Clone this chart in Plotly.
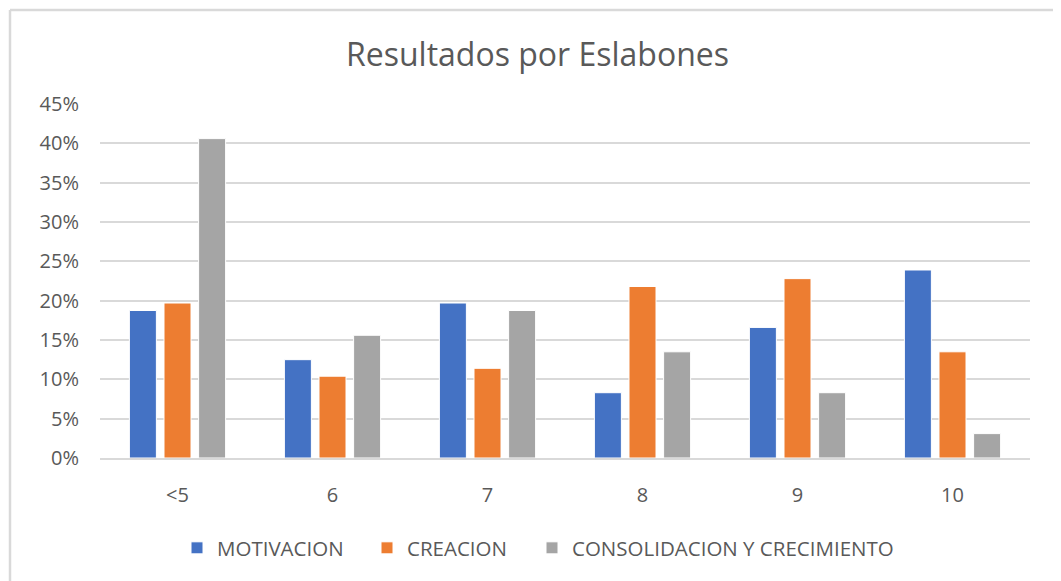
import plotly.graph_objects as go

categories = ["<5", "6", "7", "8", "9", "10"]
motivacion = [0.1875, 0.125, 0.197, 0.083, 0.166, 0.239]
creacion = [0.197, 0.104, 0.114, 0.218, 0.228, 0.135]
consolidacion = [0.406, 0.156, 0.1875, 0.135, 0.083, 0.031]

series_names = ["MOTIVACION", "CREACION", "CONSOLIDACION Y CRECIMIENTO"]
colors = ["#4472C4", "#ED7D31", "#A5A5A5"]
tick_vals = [0, 0.05, 0.10, 0.15, 0.20, 0.25, 0.30, 0.35, 0.40, 0.45]
tick_text = ["0%", "5%", "10%", "15%", "20%", "25%", "30%", "35%", "40%", "45%"]

FONT = "Open Sans"
OFF = 8  # page body margin
W, H = 1061 - OFF, 581 - OFF
# plot area in page coords: x 100..1030, y 104..458
ml, mt = 100 - OFF, 104 - OFF
mr = W - (1030 - OFF)
mb = H - (458 - OFF)
pw, ph = W - ml - mr, H - mt - mb

def px_x(x):
    return (x - OFF - ml) / pw

def px_y(y):
    return (H - mb - (y - OFF)) / ph

legend_ids = ["legend", "legend2", "legend3"]
legend_px = [193, 383, 548]  # symbol left edge, page px

fig = go.Figure()
for name, vals, col, lid in zip(series_names, [motivacion, creacion, consolidacion], colors, legend_ids):
    fig.add_trace(go.Bar(
        x=categories, y=vals, name=name, legend=lid,
        marker=dict(color=col, line=dict(color="white", width=1)),
    ))

border = dict(color="#d9d9d9", width=2.5)
fig.add_shape(type="line", xref="paper", yref="paper",
              x0=px_x(10), x1=px_x(1075), y0=px_y(10), y1=px_y(10), line=border)
fig.add_shape(type="line", xref="paper", yref="paper",
              x0=px_x(10), x1=px_x(10), y0=px_y(10), y1=px_y(595), line=border)

leg_font = dict(family=FONT, size=20.5, color="#595959")
legends = {}
for lid, lx in zip(legend_ids, legend_px):
    legends[lid] = dict(orientation="h", x=px_x(lx - 16), xanchor="left", y=px_y(548),
                        yanchor="middle", font=leg_font, itemwidth=30,
                        bgcolor="rgba(0,0,0,0)")

fig.update_layout(
    width=W, height=H,
    margin=dict(l=ml, r=mr, t=mt, b=mb),
    paper_bgcolor="white", plot_bgcolor="white",
    title=dict(text="Resultados por Eslabones", x=((347 + 728) / 2 - OFF) / W, xanchor="center",
               y=1 - (55 - OFF) / H, yanchor="middle",
               font=dict(family=FONT, size=32, color="#595959")),
    barmode="group", bargap=0.33, bargroupgap=0.22,
    showlegend=True,
    font=dict(family=FONT, color="#595959"),
    **legends,
)
fig.update_xaxes(showgrid=False, showline=True, linecolor="#d9d9d9", linewidth=1.5,
                 ticks="", tickfont=dict(family=FONT, size=20, color="#595959"),
                 ticklabelstandoff=18)
fig.update_yaxes(range=[0, 0.45], tickvals=tick_vals, ticktext=tick_text,
                 showgrid=True, gridcolor="#d9d9d9", gridwidth=1.5, zeroline=False,
                 showline=False, ticks="",
                 tickfont=dict(family=FONT, size=20, color="#595959"),
                 ticklabelstandoff=20)

fig.write_html("out.html")
